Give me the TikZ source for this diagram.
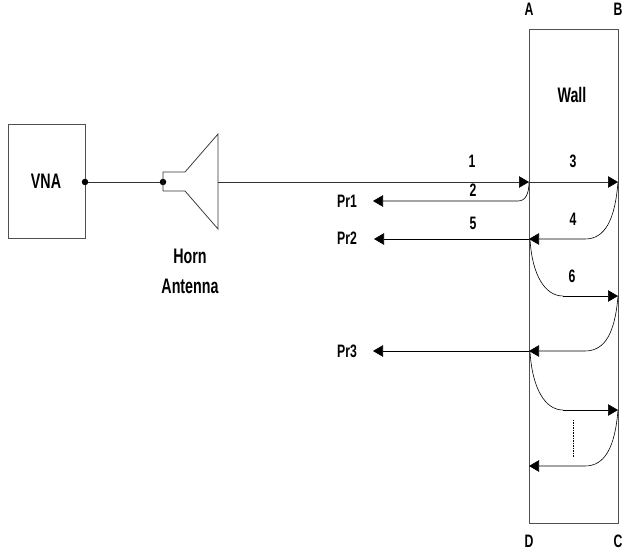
\documentclass[tikz,border=0pt]{standalone}
\usepackage{fontspec}
\setmainfont[FakeStretch=0.68,BoldFeatures={FakeStretch=0.68}]{Liberation Sans}
\usetikzlibrary{arrows.meta}
\definecolor{wallgray}{RGB}{80,80,80}
\tikzset{
  x=1pt,y=-1pt,
  ln/.style={line width=0.75pt,color=black!80},
  thin line/.style={line width=0.6pt,color=black},
  arr/.style={thin line,-{Triangle[length=10pt,width=11.5pt]}},
  lbl/.style={inner sep=0pt,font=\fontsize{18}{20}\selectfont\bfseries,align=center},
  big/.style={inner sep=0pt,font=\fontsize{21}{24}\selectfont\bfseries,align=center},
  dot/.style={circle,fill=black,inner sep=0pt,minimum width=5.5pt,minimum height=6.5pt}
}
\begin{document}
\begin{tikzpicture}
\useasboundingbox (0,0) rectangle (622,556);
\node[draw=wallgray,line width=0.8pt,minimum width=89pt,minimum height=494pt,inner sep=0pt] (wall) at (573.5,276) {};
\node[draw=wallgray,line width=0.8pt,minimum width=77pt,minimum height=114pt,inner sep=0pt] (vna) at (46.5,181.5) {};
\node[big] at (46,181) {VNA};
\node[dot] (d1) at (85,182) {};
\node[dot] (d2) at (163,182) {};
\draw[ln] (d1) -- (d2);
\draw[ln] (d2.center) -- (163,172) -- (185,172) -- (218,134) -- (218,229) -- (185,191) -- (163,191) -- (d2.center);
\node[big] at (190,256) {Horn};
\node[big] at (190,286) {Antenna};
\coordinate (hornout) at (218,182);
\coordinate (a1) at (529,182);
\coordinate (b1) at (618,182);
\coordinate (p1) at (373,201);
\coordinate (a2) at (529,239);
\coordinate (p2) at (374,239);
\coordinate (b2) at (618,296);
\coordinate (a3) at (529,351);
\coordinate (p3) at (373,351);
\coordinate (b3) at (618,410);
\coordinate (a4) at (529,466);
\draw[arr,color=black!80,-{Triangle[length=10pt,width=11.5pt,color=black]}] (hornout) -- (a1);
\draw[arr,color=black!80,-{Triangle[length=10pt,width=11.5pt,color=black]}] (a1) -- (b1);
\draw[arr] (a1) .. controls (529,193) and (526,201) .. (518,201) -- (p1);
\draw[arr] (b1) .. controls (615,220) and (605,239) .. (585,239) -- (a2);
\draw[arr] (a2) -- (p2);
\draw[thin line] (530,239) .. controls (532,275) and (545,296) .. (563,296);
\draw[arr] (563,296) -- (b2);
\draw[arr] (b2) .. controls (615,333) and (605,351) .. (585,351) -- (a3);
\draw[arr] (a3) -- (p3);
\draw[thin line] (530,351) .. controls (532,388) and (545,410) .. (563,410);
\draw[arr] (563,410) -- (b3);
\draw[arr] (b3) .. controls (615,447) and (605,466) .. (585,466) -- (a4);
\draw[line width=0.5pt,dash pattern=on 1.5pt off 1pt] (573,420) -- (573,457);
\node[lbl] at (472,161) {1};
\node[lbl] at (573,161) {3};
\node[lbl] at (473,190) {2};
\node[lbl] at (473,223) {5};
\node[lbl] at (573,219) {4};
\node[lbl] at (572,276) {6};
\node[lbl] at (347,201) {Pr1};
\node[lbl] at (347,238) {Pr2};
\node[lbl] at (347,351) {Pr3};
\node[lbl] at (529,9) {A};
\node[lbl] at (618,9) {B};
\node[lbl] at (529,541) {D};
\node[lbl] at (618,541) {C};
\node[big] at (572,95) {Wall};
\end{tikzpicture}
\end{document}
